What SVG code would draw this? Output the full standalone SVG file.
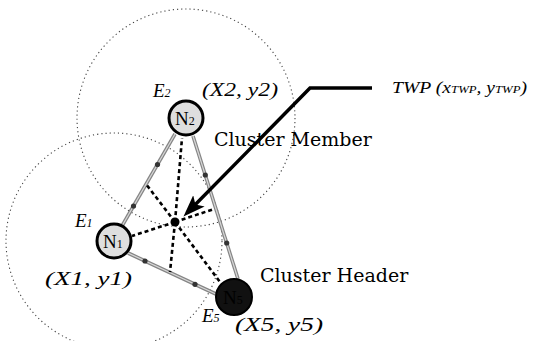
<svg xmlns="http://www.w3.org/2000/svg" width="533" height="341" viewBox="0 0 533 341">
<style>
.range{fill:none;stroke:#444;stroke-width:1.1;stroke-dasharray:1.2 3}
.edge{stroke:#858585;stroke-width:3.6;fill:none}
.edgein{stroke:#d8d8d8;stroke-width:1.2;fill:none}
.mk{fill:#333}
.dash{stroke:#000;stroke-width:2.6;stroke-dasharray:4 3;fill:none}
.arrow{stroke:#000;stroke-width:3.5;fill:none}
.node{fill:#dedede;stroke:#000;stroke-width:3}
.head{fill:#111;stroke:#000;stroke-width:2}
.it{font-family:"Liberation Serif",serif;font-style:italic;fill:#000}
.lbl{font-family:"DejaVu Serif",serif;font-size:19px;fill:#000}
.nl{font-family:"Liberation Serif",serif;font-size:19px;fill:#000}
</style>
<defs>
<marker id="ah" markerUnits="userSpaceOnUse" markerWidth="24" markerHeight="18" refX="17" refY="8" orient="auto">
<path d="M0,0 L22,8 L0,16 L5,8 z" fill="#000"/>
</marker>
</defs>
<rect width="533" height="341" fill="#fff"/>
<g id="ranges">
<circle class="range" cx="186" cy="118" r="109"/>
<circle class="range" cx="114" cy="241" r="108"/>
</g>
<g id="connectors">
<line class="edge" x1="122" y1="226" x2="175" y2="134"/>
<line class="edgein" x1="122" y1="226" x2="175" y2="134"/>
<line class="edge" x1="193" y1="136" x2="238" y2="279"/>
<line class="edgein" x1="193" y1="136" x2="238" y2="279"/>
<line class="edge" x1="128" y1="253" x2="218" y2="295"/>
<line class="edgein" x1="128" y1="253" x2="218" y2="295"/>
<circle class="mk" cx="133.5" cy="206" r="2.6"/>
<circle class="mk" cx="157.5" cy="164.5" r="2.6"/>
<circle class="mk" cx="205.3" cy="175" r="2.6"/>
<circle class="mk" cx="226.7" cy="243" r="2.6"/>
<circle class="mk" cx="145" cy="261" r="2.6"/>
<circle class="mk" cx="195" cy="284.3" r="2.6"/>
<line class="dash" x1="175" y1="222" x2="182" y2="138"/>
<line class="dash" x1="175" y1="222" x2="132" y2="236"/>
<line class="dash" x1="175" y1="222" x2="220" y2="282"/>
<line class="dash" x1="175" y1="222" x2="146" y2="184"/>
<line class="dash" x1="175" y1="222" x2="170" y2="272"/>
<line class="dash" x1="175" y1="222" x2="214" y2="209"/>
<circle cx="175" cy="222" r="4.5" fill="#000"/>
<polyline class="arrow" points="372,88 310,88 187,213" marker-end="url(#ah)"/>
</g>
<g id="N2">
<circle class="node" cx="186" cy="118" r="17"/>
<text class="nl" x="175" y="125">N<tspan font-size="12">2</tspan></text>
<text class="it" x="153" y="97" font-size="19">E<tspan font-size="12">2</tspan></text>
<text class="it" x="202" y="96" font-size="18" textLength="76" lengthAdjust="spacingAndGlyphs">(X2, y2)</text>
</g>
<g id="N1">
<circle class="node" cx="114" cy="241" r="17"/>
<text class="nl" x="103" y="248">N<tspan font-size="12">1</tspan></text>
<text class="it" x="75" y="227" font-size="19">E<tspan font-size="12">1</tspan></text>
<text class="it" x="45" y="285" font-size="18" textLength="87" lengthAdjust="spacingAndGlyphs">(X1, y1)</text>
</g>
<g id="N5">
<circle class="head" cx="234" cy="297" r="18"/>
<text class="nl" x="223" y="304" fill="#333">N<tspan font-size="12">5</tspan></text>
<text class="it" x="202" y="322" font-size="19">E<tspan font-size="12">5</tspan></text>
<text class="it" x="235" y="331" font-size="18" textLength="88" lengthAdjust="spacingAndGlyphs">(X5, y5)</text>
</g>
<g id="TWP">
<text class="it" x="392" y="93" font-size="17" textLength="135" lengthAdjust="spacingAndGlyphs">TWP (x<tspan font-size="11">TWP</tspan>, y<tspan font-size="11">TWP</tspan>)</text>
</g>
<g id="labels">
<text class="lbl" x="214" y="146">Cluster Member</text>
<text class="lbl" x="260" y="282">Cluster Header</text>
</g>
</svg>
